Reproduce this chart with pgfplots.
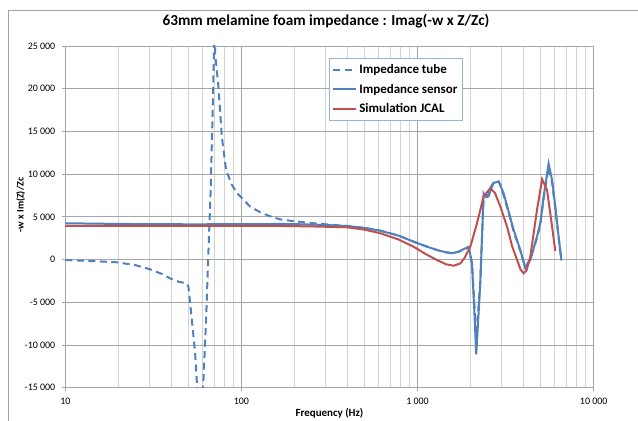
\documentclass[border=0pt]{standalone}
\usepackage{fontspec}
\setmainfont{Carlito}
\usepackage{pgfplots}
\pgfplotsset{compat=1.18}
\definecolor{xblue}{HTML}{4F81BD}
\definecolor{xred}{HTML}{C0504D}
\definecolor{majgrid}{HTML}{A6A6A6}
\definecolor{mingrid}{HTML}{D4D4D4}
\definecolor{legborder}{HTML}{95B3D7}
\definecolor{framegray}{HTML}{A0A0A0}
\begin{document}
\begin{tikzpicture}
\begin{axis}[
  at={(0bp,0bp)}, anchor=south west,
  scale only axis, width=528.4bp, height=341.7bp,
  xmode=log, xmin=10, xmax=10000, ymin=-15000, ymax=25000,
  scaled y ticks=false,
  xtick={10,100,1000,10000}, xticklabels={10,100,1 000,10 000},
  minor xtick={20,30,40,50,60,70,80,90,200,300,400,500,600,700,800,900,2000,3000,4000,5000,6000,7000,8000,9000},
  ytick={-15000,-10000,-5000,0,5000,10000,15000,20000,25000},
  yticklabels={-15 000,-10 000,-5 000,0,5 000,10 000,15 000,20 000,25 000},
  grid=both,
  major grid style={majgrid, line width=0.8bp},
  minor grid style={mingrid, line width=0.8bp},
  axis line style={majgrid, line width=0.8bp},
  tick align=outside, xtick pos=bottom, ytick pos=left,
  major tick length=3.5bp, minor tick length=0bp,
  tick style={majgrid, line width=0.8bp},
  tick label style={font=\fontsize{10}{12}\selectfont, text=black},
  yticklabel style={xshift=-3bp},
  xticklabel style={yshift=-3bp},
  title={63mm melamine foam impedance : Imag(-w x Z/Zc)},
  title style={at={(rel axis cs:0.4934,1.0556)}, anchor=center, inner sep=0pt, font=\bfseries\fontsize{15.3}{18}\selectfont},
  xlabel={Frequency (Hz)},
  xlabel style={at={(rel axis cs:0.5,-0.0605)}, anchor=north, inner sep=0pt, font=\bfseries\fontsize{11}{13}\selectfont},
  ylabel={-w x Im(Z)/Zc},
  ylabel style={at={(rel axis cs:-0.0844,0.5347)}, anchor=center, inner sep=0pt, font=\bfseries\fontsize{10}{12}\selectfont},
  legend style={at={(rel axis cs:0.499,0.965)}, anchor=north west, draw=legborder, line width=0.8bp, fill=white,
    font=\bfseries\fontsize{13}{15}\selectfont, inner xsep=3bp, inner ysep=4bp, row sep=5bp,
    /tikz/every even column/.append style={column sep=1bp}},
  legend cell align=left,
  legend image code/.code={\draw[#1] (0bp,0bp) -- (23bp,0bp);},
]
% Impedance tube (dashed)
\addplot[xblue, line width=2bp, dash pattern=on 7bp off 4.5bp] coordinates {
(10,-50) (15,-200) (19.6,-320) (25,-650) (30.3,-1140) (35,-1650) (39.3,-2190) (44,-2600) (48.9,-2780) (50,-3170)
(52.3,-7070) (54.6,-10970) (55.8,-14300) (56.4,-17000) (60.2,-17000)
(60.8,-14300) (63.0,-7070) (64.9,740) (67.0,8540) (68.8,18300) (69.9,24930) (70.4,27500) (70.9,24160)
(74.0,20250) (77.4,14400) (81.8,10500) (88,8800) (94.2,7800) (112,6200) (130,5450) (151,4950) (166,4700) (206,4450)
(256,4250) (320,4080) (397,3930) (500,3700) (614,3380) (780,2800) (948,2100) (1100,1600) (1287,1120) (1450,850) (1566,760)
(1700,900) (1870,1250) (1950,1400) (2037,-500) (2100,-5000) (2153,-9500) (2210,-6000) (2270,-2500) (2371,7300) (2450,7500) (2531,7600)
(2620,8600) (2702,9000) (2830,9300) (2950,8800) (3081,7500) (3300,5400) (3510,3300) (3832,1000) (4090,-900) (4365,100) (4765,2500)
(4977,4100) (5200,7200) (5545,10800) (5806,9000) (6050,6000) (6324,2500) (6553,-100)
};
\addlegendentry{Impedance tube}
% Impedance sensor
\addplot[xblue, line width=2bp] coordinates {
(10,4250) (20,4170) (50,4130) (100,4140) (166,4170) (200,4150) (300,4050) (397,3930) (500,3700) (614,3380) (780,2800) (948,2100)
(1100,1600) (1287,1120) (1450,850) (1566,740) (1700,900) (1870,1320) (1950,1500) (2037,-430) (2100,-6000) (2153,-11100) (2210,-7000) (2270,-2800)
(2371,7750) (2450,7300) (2531,7400) (2620,8300) (2702,8960) (2885,9150) (3081,7750) (3300,5500) (3510,3470) (3832,1120) (4090,-1020)
(4365,-50) (4765,2700) (4977,4250) (5200,7400) (5545,11230) (5806,9300) (6050,6230) (6324,2680) (6553,-50)
};
\addlegendentry{Impedance sensor}
% Simulation JCAL
\addplot[xred, line width=2bp] coordinates {
(10,3950) (50,3950) (100,3950) (166,3935) (250,3880) (397,3780) (500,3500) (614,3080) (780,2350) (948,1510) (1100,700) (1287,-50)
(1450,-550) (1602,-720) (1750,-450) (1850,200) (1993,1500) (2175,4250) (2371,7370) (2588,8350) (2750,7800) (2953,6200) (3222,3850)
(3450,1500) (3674,-50) (3850,-1200) (4000,-1600) (4150,-1300) (4365,340) (4765,5800) (5096,9400) (5432,8150) (5806,3850) (6050,1000)
};
\addlegendentry{Simulation JCAL}
\end{axis}
\draw[framegray, line width=0.8bp] (-57.3bp,-40bp) -- (-57.3bp,377.7bp) -- (600bp,377.7bp);
\pgfresetboundingbox
\path[use as bounding box] (-65.3bp,-33.3bp) rectangle (572.7bp,387.7bp);
\end{tikzpicture}
\end{document}
